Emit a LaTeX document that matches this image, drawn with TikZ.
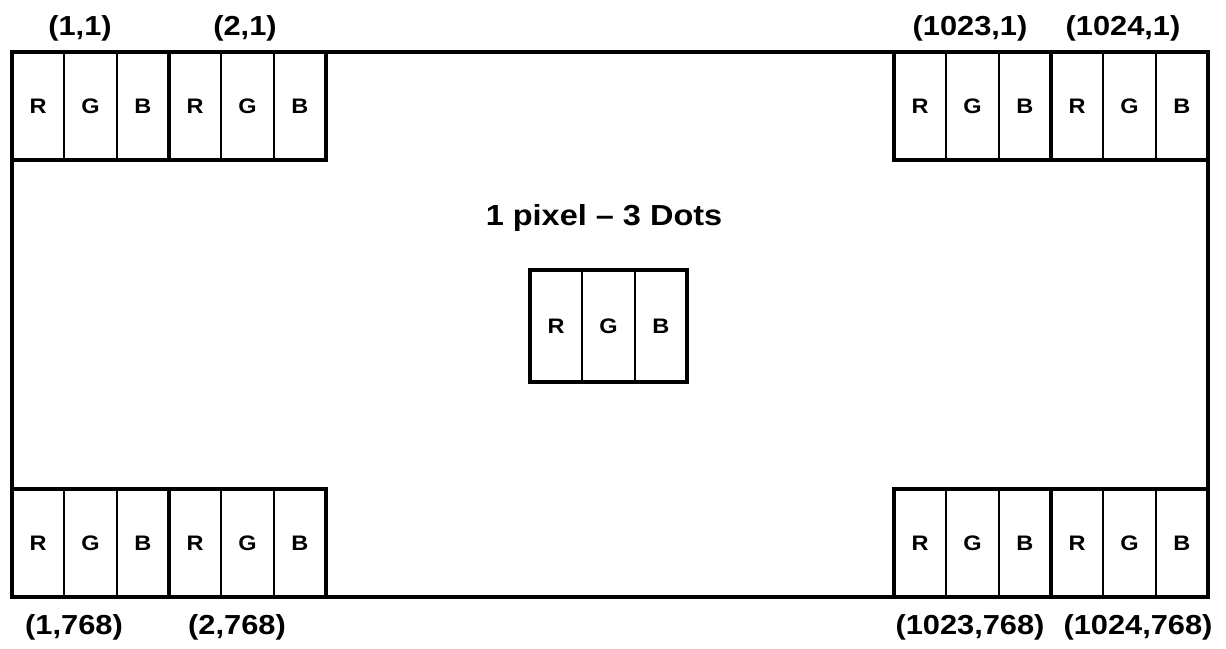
\documentclass[tikz,border=0pt]{standalone}
\usepackage{fontspec}
\setmainfont{Liberation Sans}[FakeStretch=1.12]
\usepackage{tikz}
\tikzset{
  dot/.style={draw, line width=2pt, inner sep=0pt, outer sep=0pt, minimum width=52.33pt, font=\bfseries\fontsize{21}{24}\selectfont},
  pixelline/.style={line width=4.5pt},
  coordlabel/.style={font=\bfseries\fontsize{27.5}{30}\selectfont}
}
% top left corner (x,y), height, name
\def\pixelbox(#1,#2)#3#4{%
  \node[dot, minimum height=#3, anchor=north west] (#4-r) at (#1,#2) {R};
  \node[dot, minimum height=#3, anchor=west] (#4-g) at (#4-r.east) {G};
  \node[dot, minimum height=#3, anchor=west] (#4-b) at (#4-g.east) {B};
  \draw[pixelline] (#4-r.north west) rectangle (#4-b.south east);}

\begin{document}
\begin{tikzpicture}[x=1pt, y=-1pt]
		%%%%% START %%%%%
		\useasboundingbox (0, 0) rectangle (1226, 648);
		
		\draw[pixelline] (12, 52) rectangle (1208, 597);
		
		\pixelbox(12, 52){108pt}{tla}
		\pixelbox(169, 52){108pt}{tlb}
		\pixelbox(894, 52){108pt}{tra}
		\pixelbox(1051, 52){108pt}{trb}
		
		\pixelbox(12, 489){108pt}{bla}
		\pixelbox(169, 489){108pt}{blb}
		\pixelbox(894, 489){108pt}{bra}
		\pixelbox(1051, 489){108pt}{brb}
		
		\pixelbox(530, 270){112pt}{mid}
		\node[font=\bfseries\fontsize{29}{32}\selectfont] (title) at (604, 218) {1 pixel -- 3 Dots};
		
		\node[coordlabel] (lbl-tla) at (80, 28) {(1,1)};
		\node[coordlabel] (lbl-tlb) at (245, 28) {(2,1)};
		\node[coordlabel] (lbl-tra) at (970, 28) {(1023,1)};
		\node[coordlabel] (lbl-trb) at (1123, 28) {(1024,1)};
		
		\node[coordlabel] (lbl-bla) at (74, 627) {(1,768)};
		\node[coordlabel] (lbl-blb) at (237, 627) {(2,768)};
		\node[coordlabel] (lbl-bra) at (970, 627) {(1023,768)};
		\node[coordlabel] (lbl-brb) at (1138, 627) {(1024,768)};
		%%%%% END %%%%%
\end{tikzpicture}
\end{document}
